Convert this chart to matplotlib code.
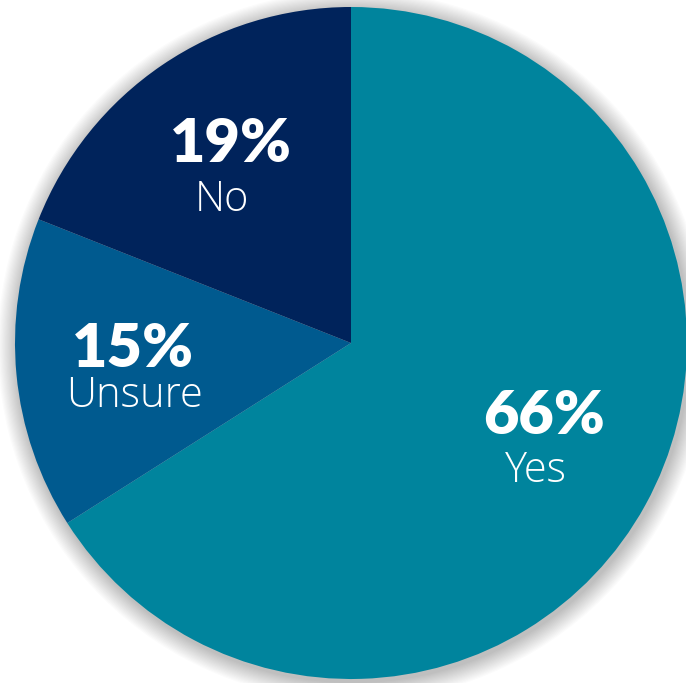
import matplotlib
matplotlib.use("Agg")
import matplotlib.pyplot as plt
from matplotlib.patches import Circle

labels = ["Yes", "Unsure", "No"]
values = [66, 15, 19]
colors = ["#00849D", "#005A8F", "#00235B"]
pct_labels = ["66%", "15%", "19%"]

W, H = 686, 683
fig = plt.figure(figsize=(W / 100, H / 100), dpi=100)
ax = fig.add_axes([0, 0, 1, 1])

cx, cy, r = 351, H - 343, 336

# soft shadow
n = 16
for k in range(n, 0, -1):
    ax.add_patch(Circle((cx + 2, cy - 3), r + k * 1.2, color="black",
                        alpha=0.014, lw=0, zorder=0))

ax.pie(values, colors=colors, startangle=90, counterclock=False,
       center=(cx, cy), radius=r, frame=True,
       wedgeprops=dict(linewidth=0))
ax.set_xlim(0, W)
ax.set_ylim(0, H)
ax.set_aspect("equal")
ax.axis("off")

pct_pos = [(544, 416), (133, 349), (231, 144)]
lab_pos = [(536, 471), (134, 396), (222, 200)]
for i in range(len(labels)):
    x, y = pct_pos[i]
    ax.text(x, H - y, pct_labels[i], ha="center", va="center", color="white",
            fontsize=44, fontweight="heavy", family=["Lato", "DejaVu Sans"])
    x, y = lab_pos[i]
    ax.text(x, H - y, labels[i], ha="center", va="center", color="white",
            fontsize=30, fontweight="light", family=["Open Sans", "DejaVu Sans"])

fig.savefig("out.png", dpi=100)
